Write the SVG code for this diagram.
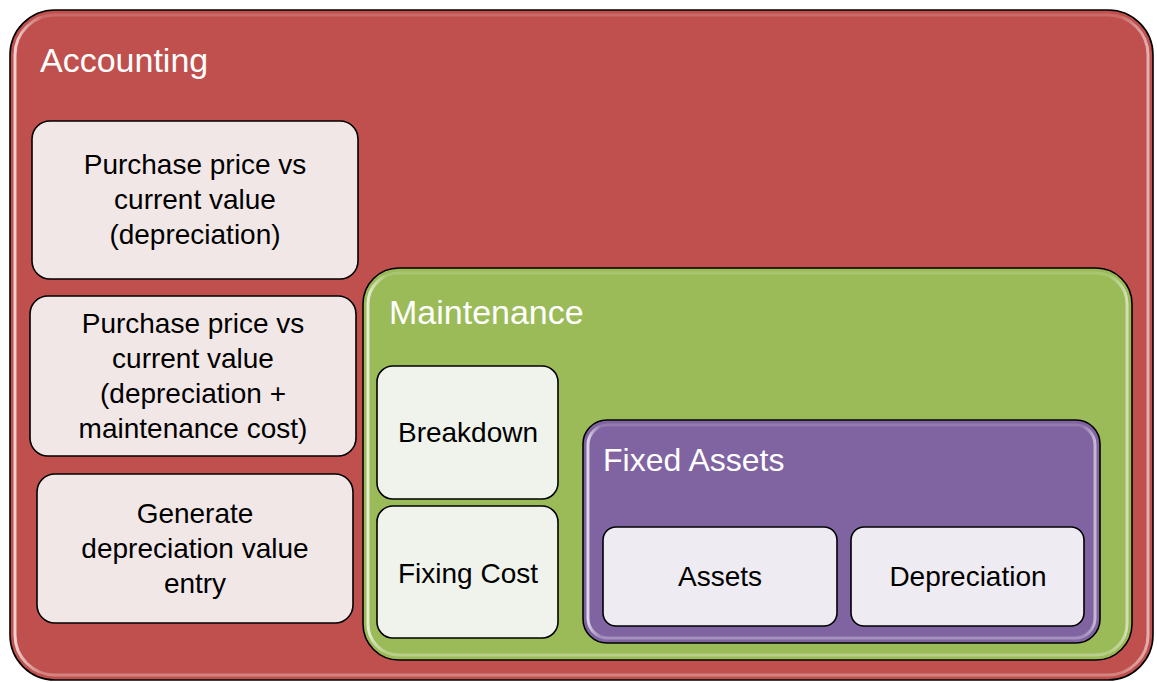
<svg xmlns="http://www.w3.org/2000/svg" width="1157" height="682" viewBox="0 0 1157 682">
<defs>
<linearGradient id="hl" x1="0" y1="0" x2="1" y2="0">
<stop offset="0" stop-color="#fff" stop-opacity="0.75"/>
<stop offset="0.025" stop-color="#fff" stop-opacity="0"/>
<stop offset="0.975" stop-color="#fff" stop-opacity="0"/>
<stop offset="1" stop-color="#fff" stop-opacity="0.55"/>
</linearGradient>
<linearGradient id="hv" x1="0" y1="0" x2="0" y2="1">
<stop offset="0" stop-color="#fff" stop-opacity="0.15"/>
<stop offset="0.04" stop-color="#fff" stop-opacity="0"/>
<stop offset="0.96" stop-color="#fff" stop-opacity="0"/>
<stop offset="1" stop-color="#fff" stop-opacity="0.3"/>
</linearGradient>
</defs>
<style>
.frame{stroke:#000;stroke-width:1.6}
.red{fill:#C0504D}
.green{fill:#9BBB59}
.purple{fill:#8064A2}
.hl{fill:none;stroke:url(#hl);stroke-width:3}
.hv{fill:none;stroke:url(#hv);stroke-width:3}
.box{stroke:#000;stroke-width:1.6}
.rbox{fill:#F2E7E7}
.gbox{fill:#F0F3EC}
.pbox{fill:#EEEBF2}
.title{font-family:"Liberation Sans",Arial,sans-serif;fill:#fff}
.t{font-family:"Liberation Sans",Arial,sans-serif;font-size:28px;fill:#000;text-anchor:middle}
</style>

<g id="accounting">
<rect class="frame red" x="10" y="10" width="1143" height="670" rx="45"/>
<rect class="hl" x="15" y="15" width="1133" height="660" rx="40"/>
<rect class="hv" x="15" y="15" width="1133" height="660" rx="40"/>
<text class="title" x="40" y="72" font-size="34">Accounting</text>
</g>

<g id="purchase-depreciation">
<rect class="box rbox" x="32" y="121" width="326" height="158" rx="18"/>
<text class="t"><tspan x="195" y="174">Purchase price vs</tspan><tspan x="195" y="209">current value</tspan><tspan x="195" y="244">(depreciation)</tspan></text>
</g>

<g id="purchase-depreciation-maintenance">
<rect class="box rbox" x="30" y="296" width="326" height="160" rx="18"/>
<text class="t"><tspan x="193" y="333">Purchase price vs</tspan><tspan x="193" y="368">current value</tspan><tspan x="193" y="403">(depreciation +</tspan><tspan x="193" y="438">maintenance cost)</tspan></text>
</g>

<g id="generate-entry">
<rect class="box rbox" x="37" y="474" width="316" height="149" rx="18"/>
<text class="t"><tspan x="195" y="523">Generate</tspan><tspan x="195" y="558">depreciation value</tspan><tspan x="195" y="593">entry</tspan></text>
</g>

<g id="maintenance">
<rect class="frame green" x="363" y="268" width="769" height="392" rx="36"/>
<rect class="hl" x="368" y="273" width="759" height="382" rx="31"/>
<rect class="hv" x="368" y="273" width="759" height="382" rx="31"/>
<text class="title" x="389" y="324" font-size="34">Maintenance</text>
</g>

<g id="breakdown">
<rect class="box gbox" x="377" y="366" width="181" height="133" rx="16"/>
<text class="t" x="468" y="442">Breakdown</text>
</g>

<g id="fixing-cost">
<rect class="box gbox" x="377" y="506" width="181" height="132" rx="16"/>
<text class="t" x="468" y="583">Fixing Cost</text>
</g>

<g id="fixed-assets">
<rect class="frame purple" x="583" y="420" width="517" height="223" rx="24"/>
<rect class="hl" x="588" y="425" width="507" height="213" rx="20"/>
<rect class="hv" x="588" y="425" width="507" height="213" rx="20"/>
<text class="title" x="603" y="471" font-size="32">Fixed Assets</text>
</g>

<g id="assets">
<rect class="box pbox" x="603" y="527" width="234" height="99" rx="13"/>
<text class="t" x="720" y="586">Assets</text>
</g>

<g id="depreciation">
<rect class="box pbox" x="851" y="527" width="233" height="99" rx="13"/>
<text class="t" x="968" y="586">Depreciation</text>
</g>

<g id="connectors"></g>
</svg>
